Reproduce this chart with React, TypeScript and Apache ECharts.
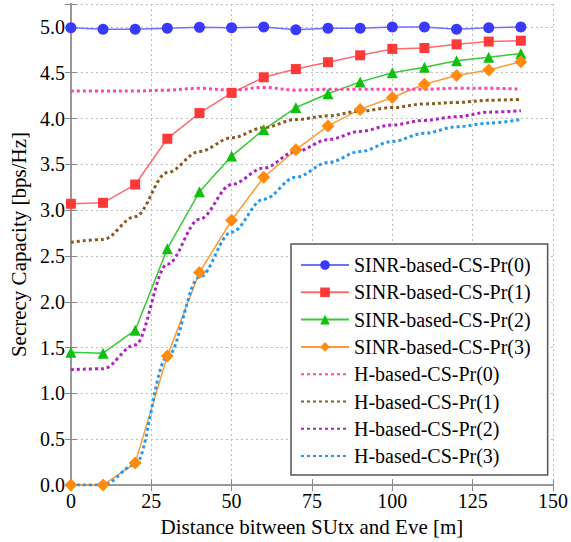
import React, { useEffect, useRef } from "react";
import * as echarts from "echarts";

const xValues = [0, 10, 20, 30, 40, 50, 60, 70, 80, 90, 100, 110, 120, 130, 140];
const xTicks = [0, 25, 50, 75, 100, 125, 150];
const yTicks = [0, 0.5, 1, 1.5, 2, 2.5, 3, 3.5, 4, 4.5, 5];

const sinr0 = [4.99, 4.975, 4.975, 4.985, 4.995, 4.99, 5.0, 4.97, 4.985, 4.985, 5.0, 5.0, 4.975, 4.99, 5.0];
const sinr1 = [3.07, 3.08, 3.28, 3.78, 4.06, 4.28, 4.45, 4.54, 4.615, 4.69, 4.76, 4.77, 4.81, 4.84, 4.85];
const sinr2 = [1.45, 1.44, 1.69, 2.58, 3.2, 3.59, 3.88, 4.12, 4.27, 4.4, 4.5, 4.56, 4.63, 4.67, 4.71];
const sinr3 = [0.0, 0.0, 0.24, 1.41, 2.32, 2.89, 3.36, 3.66, 3.92, 4.1, 4.23, 4.375, 4.47, 4.53, 4.62];
const h0 = [4.3, 4.3, 4.3, 4.31, 4.33, 4.31, 4.34, 4.31, 4.32, 4.32, 4.32, 4.32, 4.33, 4.33, 4.32];
const h1 = [2.65, 2.68, 2.93, 3.41, 3.64, 3.79, 3.9, 3.99, 4.03, 4.08, 4.12, 4.16, 4.175, 4.2, 4.21];
const h2 = [1.26, 1.27, 1.53, 2.41, 2.9, 3.28, 3.46, 3.64, 3.77, 3.86, 3.93, 3.98, 4.02, 4.07, 4.085];
const h3 = [0.0, 0.0, 0.22, 1.4, 2.27, 2.76, 3.12, 3.36, 3.52, 3.64, 3.75, 3.84, 3.91, 3.95, 3.99];

const names = [
  "SINR-based-CS-Pr(0)",
  "SINR-based-CS-Pr(1)",
  "SINR-based-CS-Pr(2)",
  "SINR-based-CS-Pr(3)",
  "H-based-CS-Pr(0)",
  "H-based-CS-Pr(1)",
  "H-based-CS-Pr(2)",
  "H-based-CS-Pr(3)",
];

const FONT = "Liberation Serif, Times New Roman, DejaVu Serif, serif";

const pair = (ys: number[]) => xValues.map((x, i) => [x, ys[i]]);

export default function App() {
  const ref = useRef<HTMLDivElement>(null);
  useEffect(() => {
    if (!ref.current) return;
    const chart = echarts.init(ref.current, undefined, { renderer: "svg" });
    const frame = { show: true, lineStyle: { color: "#999", width: 2 } };
    const tick = { show: true, inside: true, length: 6, lineStyle: { color: "#888", width: 1 } };
    const split = { show: true, lineStyle: { color: "#bbb", width: 1, type: [2, 3] as any } };
    const solid = (name: string, data: number[], color: string, lineColor: string, symbol: string, size: number) => ({
      name,
      type: "line",
      data: pair(data),
      symbol,
      symbolSize: size,
      itemStyle: { color },
      lineStyle: { color: lineColor, width: 1.5 },
      xAxisIndex: 0,
      yAxisIndex: 0,
    });
    const dotted = (name: string, data: number[], color: string) => ({
      name,
      type: "line",
      data: pair(data),
      symbol: "none",
      smooth: 0.35,
      smoothMonotone: "x",
      itemStyle: { color, opacity: 0 },
      lineStyle: { color, width: 3, type: [3, 3] as any },
      xAxisIndex: 0,
      yAxisIndex: 0,
    });
    const yLabelFmt = (v: number) => (Math.abs(v * 2 - Math.round(v * 2)) < 1e-6 ? v.toFixed(1) : "");
    chart.setOption({
      animation: false,
      backgroundColor: "#fff",
      textStyle: { fontFamily: FONT },
      grid: { left: 68, right: 14, top: 4, bottom: 56, containLabel: false },
      xAxis: [
        {
          type: "value",
          min: 0,
          max: 150,
          interval: 25,
          position: "bottom",
          name: "Distance bitween SUtx and Eve [m]",
          nameLocation: "middle",
          nameGap: 26,
          nameTextStyle: { fontFamily: FONT, fontSize: 21, color: "#000" },
          axisLine: frame,
          axisTick: tick,
          splitLine: split,
          axisLabel: { fontFamily: FONT, fontSize: 20, color: "#000", margin: 6 },
        },
        {
          type: "value",
          min: 0,
          max: 150,
          interval: 25,
          position: "top",
          axisLine: frame,
          axisTick: tick,
          splitLine: { show: false },
          axisLabel: { show: false },
        },
      ],
      yAxis: [
        {
          type: "value",
          min: 0,
          max: 5.25,
          interval: 0.5,
          position: "left",
          name: "Secrecy Capacity [bps/Hz]",
          nameLocation: "middle",
          nameGap: 40,
          nameTextStyle: { fontFamily: FONT, fontSize: 21, color: "#000" },
          axisLine: frame,
          axisTick: tick,
          splitLine: split,
          axisLabel: { fontFamily: FONT, fontSize: 20, color: "#000", margin: 6, formatter: yLabelFmt },
        },
        {
          type: "value",
          min: 0,
          max: 5.25,
          interval: 0.5,
          position: "right",
          axisLine: frame,
          axisTick: tick,
          splitLine: { show: false },
          axisLabel: { show: false },
        },
      ],
      legend: {
        data: names,
        orient: "vertical",
        left: 291,
        top: 244,
        backgroundColor: "#fff",
        borderColor: "#555",
        borderWidth: 1.5,
        borderRadius: 0,
        padding: [11, 17, 9, 9],
        itemWidth: 48,
        itemHeight: 12,
        itemGap: 7.3,
        textStyle: { fontFamily: FONT, fontSize: 20, color: "#000" },
      },
      series: [
        solid(names[0], sinr0, "#3a3aff", "#7070ff", "circle", 11),
        solid(names[1], sinr1, "#ff3838", "#ff6a6a", "rect", 10),
        solid(names[2], sinr2, "#10c010", "#33cc33", "triangle", 11),
        solid(names[3], sinr3, "#ff8c10", "#ff9a33", "diamond", 13),
        dotted(names[4], h0, "#ff44aa"),
        dotted(names[5], h1, "#8a5a1e"),
        dotted(names[6], h2, "#b020c0"),
        dotted(names[7], h3, "#2299ee"),
      ],
    });
    return () => chart.dispose();
  }, []);
  return <div ref={ref} style={{ position: "fixed", left: 0, top: 0, width: 571, height: 542 }} />;
}
